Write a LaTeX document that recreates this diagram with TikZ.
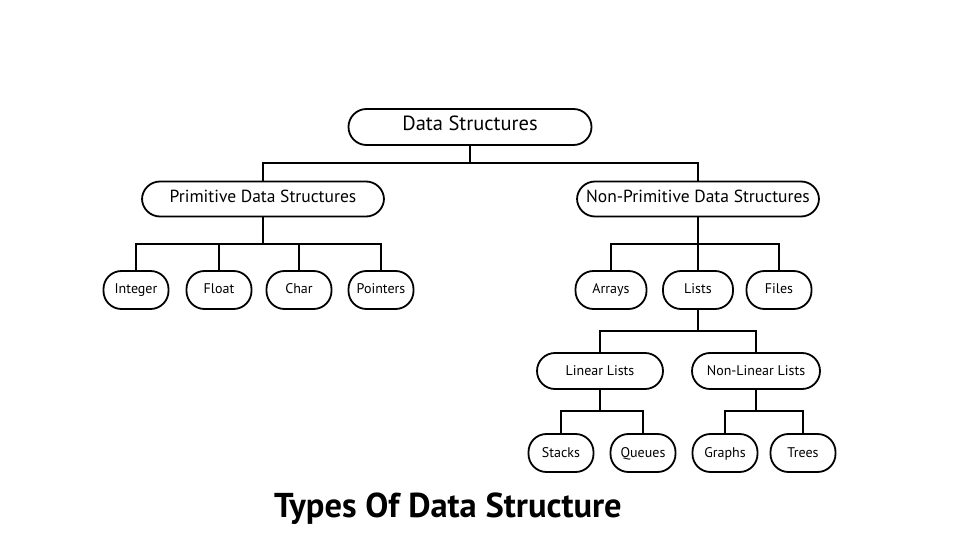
\documentclass[tikz,border=0pt]{standalone}
\usepackage{fontspec}
\setmainfont{PT Sans}
\usepackage{tikz}

\tikzset{
  pill/.style={draw,rounded corners=18pt,inner sep=0pt,align=center,text height=1.9ex,text depth=.3ex},
  bigpill/.style={pill,minimum width=243pt,minimum height=36pt,font=\fontsize{20.5}{24}\selectfont},
  midpill/.style={pill,minimum width=242pt,minimum height=35pt,font=\fontsize{17.5}{21}\selectfont},
  subpill/.style={pill,minimum width=126pt,minimum height=36pt,font=\fontsize{14}{17}\selectfont},
  leaf/.style={pill,minimum width=65pt,minimum height=38pt,font=\fontsize{14}{17}\selectfont},
}

\begin{document}
\begin{tikzpicture}[x=1pt,y=-1pt,line width=1.8pt]
\useasboundingbox (0,0) rectangle (975,537);
% bus points
\coordinate (b0) at (470,163);
\coordinate (b1) at (263,244);
\coordinate (b2) at (698,244);
\coordinate (b3) at (698,331);
\coordinate (b4) at (600,411);
\coordinate (b5) at (756,411);
% boxes
\node[bigpill] (ds) at (470,127) {Data Structures};
\node[midpill] (pds) at (263,199) {Primitive Data Structures};
\node[midpill] (npds) at (698,199) {Non-Primitive Data Structures};
\node[leaf] (int) at (136,290) {Integer};
\node[leaf] (flt) at (219,290) {Float};
\node[leaf] (chr) at (299,290) {Char};
\node[leaf] (ptr) at (381,290) {Pointers};
\node[leaf,minimum width=71pt] (arr) at (611,290) {Arrays};
\node[leaf,minimum width=70pt] (lst) at (698,290) {Lists};
\node[leaf] (fil) at (779,290) {Files};
\node[subpill] (lin) at (600,371) {Linear Lists};
\node[subpill,minimum width=128pt] (nlin) at (756,371) {Non-Linear Lists};
\node[leaf] (stk) at (561,453) {Stacks};
\node[leaf] (que) at (643,453) {Queues};
\node[leaf] (grp) at (725,453) {Graphs};
\node[leaf] (tre) at (803,453) {Trees};
% links
\draw (ds.south)--(b0) (pds.north) |- (b0) -| (npds.north);
\draw (pds.south)--(b1) (int.north) |- (b1) -| (ptr.north);
\draw (flt.north)--(flt.north |- b1) (chr.north)--(chr.north |- b1);
\draw (npds.south)--(lst.north) (arr.north) |- (b2) -| (fil.north);
\draw (lst.south)--(b3) (lin.north) |- (b3) -| (nlin.north);
\draw (lin.south)--(b4) (stk.north) |- (b4) -| (que.north);
\draw (nlin.south)--(b5) (grp.north) |- (b5) -| (tre.north);
\node[font=\fontsize{34.5}{40}\selectfont\bfseries] (ttl) at (448,509) {Types Of Data Structure};
\end{tikzpicture}
\end{document}
